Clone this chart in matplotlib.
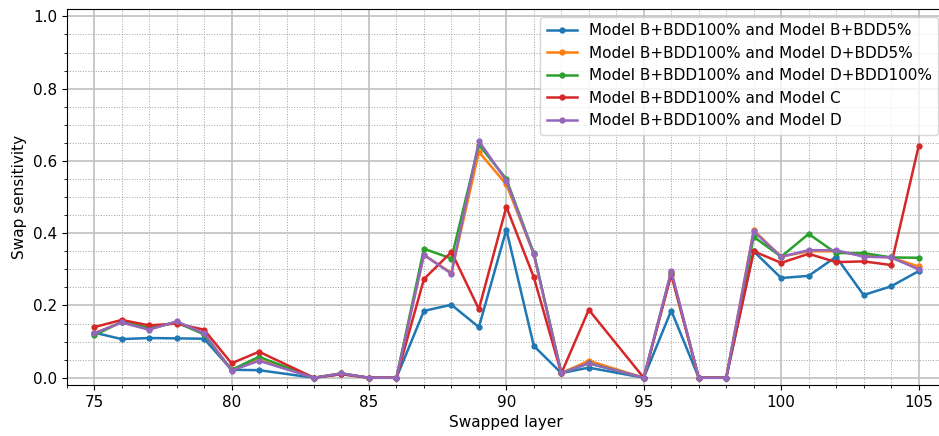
import numpy as np
import matplotlib.pyplot as plt
from matplotlib.ticker import MultipleLocator

plt.rcParams['font.size'] = 11

layers = [75, 76, 77, 78, 79, 80, 81, 83, 84, 85, 86, 87, 88, 89, 90, 91, 92, 93,
          95, 96, 97, 98, 99, 100, 101, 102, 103, 104, 105]

b_bdd5 = [0.125, 0.107, 0.110, 0.109, 0.108, 0.022, 0.021, 0.0, 0.010, 0.0, 0.0,
          0.185, 0.202, 0.140, 0.410, 0.088, 0.013, 0.028,
          0.0, 0.186, 0.0, 0.0, 0.350, 0.276, 0.282, 0.335, 0.229, 0.253, 0.295]
d_bdd5 = [0.123, 0.153, 0.134, 0.155, 0.122, 0.021, 0.050, 0.0, 0.012, 0.0, 0.0,
          0.340, 0.290, 0.625, 0.535, 0.342, 0.013, 0.047,
          0.0, 0.293, 0.0, 0.0, 0.408, 0.335, 0.350, 0.350, 0.338, 0.333, 0.308]
d_bdd100 = [0.117, 0.155, 0.138, 0.153, 0.120, 0.022, 0.058, 0.0, 0.012, 0.0, 0.0,
            0.357, 0.330, 0.645, 0.550, 0.345, 0.013, 0.040,
            0.0, 0.290, 0.0, 0.0, 0.390, 0.335, 0.398, 0.345, 0.345, 0.333, 0.332]
model_c = [0.140, 0.160, 0.145, 0.150, 0.133, 0.040, 0.072, 0.0, 0.010, 0.0, 0.0,
           0.273, 0.348, 0.190, 0.473, 0.278, 0.012, 0.188,
           0.0, 0.285, 0.0, 0.0, 0.350, 0.318, 0.343, 0.320, 0.322, 0.312, 0.640]
model_d = [0.123, 0.153, 0.133, 0.156, 0.123, 0.020, 0.047, 0.0, 0.012, 0.0, 0.0,
           0.340, 0.288, 0.655, 0.545, 0.342, 0.013, 0.040,
           0.0, 0.295, 0.0, 0.0, 0.405, 0.335, 0.353, 0.353, 0.335, 0.333, 0.300]

labels = ['Model B+BDD100% and Model B+BDD5%',
          'Model B+BDD100% and Model D+BDD5%',
          'Model B+BDD100% and Model D+BDD100%',
          'Model B+BDD100% and Model C',
          'Model B+BDD100% and Model D']

fig, ax = plt.subplots(figsize=(9.39, 4.36), dpi=100)
# right edge of the axes runs a little past the canvas, as in the source image
fig.subplots_adjust(left=0.071, right=1.0075, top=0.979, bottom=0.117)

for ys, lab in zip([b_bdd5, d_bdd5, d_bdd100, model_c, model_d], labels):
    ax.plot(layers, ys, marker='o', markersize=3.5, linewidth=1.8, label=lab)

ax.set_xlim(74, 106)
ax.set_ylim(-0.02, 1.02)
ax.xaxis.set_major_locator(MultipleLocator(5))
ax.xaxis.set_minor_locator(MultipleLocator(1))
ax.yaxis.set_major_locator(MultipleLocator(0.2))
ax.yaxis.set_minor_locator(MultipleLocator(0.05))
ax.grid(which='major', color='#c0c0c0', linewidth=1.2)
ax.grid(which='minor', color='#a0a0a0', linestyle=':', linewidth=0.7)
ax.set_axisbelow(True)
ax.set_xlabel('Swapped layer')
ax.set_ylabel('Swap sensitivity')
ax.legend(loc='upper right')

fig.savefig('out.png')
